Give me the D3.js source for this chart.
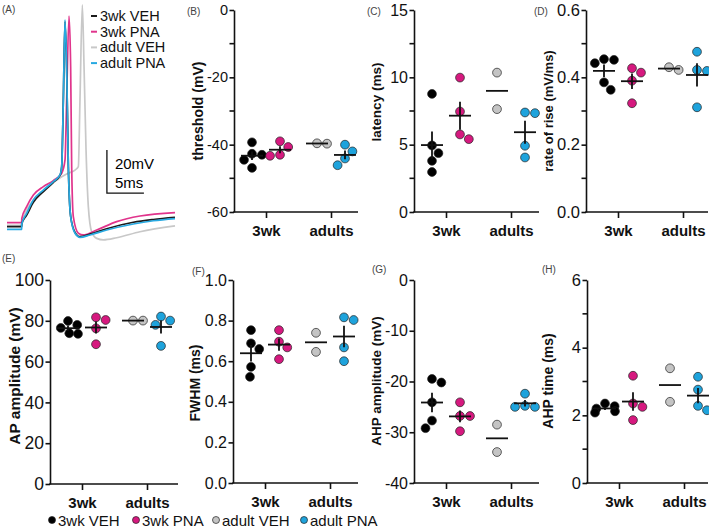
<!DOCTYPE html>
<html><head><meta charset="utf-8">
<script src="https://cdn.jsdelivr.net/npm/d3@7"></script>
<style>
body{margin:0;background:#fff;}
text{font-family:"Liberation Sans",Arial,sans-serif;}
</style></head>
<body><svg id="chart" width="709" height="528"></svg>
<script>
// ---------------- DATA ----------------
const groups = ["3wk VEH", "3wk PNA", "adult VEH", "adult PNA"];
const groupCategory = ["3wk", "3wk", "adults", "adults"];
const categories = ["3wk", "adults"];

const thresholdData = [[-39.3, -42.7, -43.0, -44.5, -46.9], [-39.0, -40.7, -43.0, -43.3], [-39.7, -39.6], [-40.0, -42.0, -44.1, -46.1]];
const latencyData   = [[8.77, 4.94, 4.37, 3.80, 2.97], [9.98, 7.46, 5.76, 5.41], [10.35, 7.64], [7.34, 7.39, 4.92, 4.05]];
const riseData      = [[0.454, 0.452, 0.442, 0.385, 0.363], [0.427, 0.414, 0.390, 0.323], [0.422, 0.430], [0.476, 0.422, 0.419, 0.311]];
const apAmpData     = [[79.9, 78.0, 76.5, 73.9, 73.6], [81.7, 80.4, 76.3, 68.5], [80.1, 80.1], [82.1, 80.1, 78.0, 67.7]];
const fwhmData      = [[0.753, 0.688, 0.660, 0.572, 0.523], [0.753, 0.696, 0.668, 0.610], [0.740, 0.646], [0.816, 0.803, 0.668, 0.600]];
const ahpAmpData    = [[-19.5, -20.2, -24.1, -27.7, -29.2], [-24.1, -26.8, -26.8, -29.8], [-28.5, -33.9], [-22.4, -25.0, -25.0, -24.8]];
const ahpTimeData   = [[2.35, 2.27, 2.20, 2.12, 2.08], [3.17, 2.35, 2.25, 1.86], [3.39, 2.40], [3.14, 2.76, 2.28, 2.15]];

const thresholdTicks = [0, -20, -40, -60], thresholdMinor = [-10, -30, -50];
const latencyTicks = [0, 5, 10, 15], latencyMinor = [2.5, 7.5, 12.5];
const riseTicks = [0, 0.2, 0.4, 0.6], riseMinor = [0.1, 0.3, 0.5];
const apAmpTicks = [0, 20, 40, 60, 80, 100];
const fwhmTicks = [0, 0.2, 0.4, 0.6, 0.8, 1.0];
const ahpAmpTicks = [0, -10, -20, -30, -40];
const ahpTimeTicks = [0, 2, 4, 6], ahpTimeMinor = [1, 3, 5];

// action potential traces: [time (ms), membrane potential (mV)]
const trace3wkVEH = [[0,-69.8],[1.98,-69.8],[2.0,-68.5],[2.66,-64.5],[3.56,-58.5],[4.91,-53.5],[6.26,-49.2],[7.16,-46],[7.39,-42],[7.61,-11],[7.84,25.5],[8.06,4],[8.29,-42],[8.6,-65],[9.19,-72.5],[9.86,-74.5],[11.22,-73.3],[13.47,-70.8],[17.07,-67.8],[19.77,-66.5],[22.7,-65.5]];
const trace3wkPNA = [[0,-68.0],[1.98,-68.0],[2.0,-66],[2.66,-60.5],[3.56,-55.1],[4.91,-51.2],[6.26,-48.4],[7.39,-45.0],[7.84,-38.8],[8.06,-10.9],[8.38,28.1],[8.6,4.6],[8.74,-41.9],[8.96,-65.2],[9.64,-72.9],[10.3,-73.7],[12.12,-71.4],[14.82,-67.5],[17.97,-64.9],[22.7,-63.3]];
const traceAdultVEH = [[0,-69.2],[1.98,-69.2],[2.0,-68],[2.66,-62.1],[3.56,-57.4],[4.91,-53.6],[6.26,-49.4],[7.39,-46.6],[8.06,-45.3],[9.19,-43.5],[9.64,-41.9],[9.86,-10.9],[10.18,33.3],[10.41,4.6],[10.68,-34.2],[10.99,-60.5],[11.44,-72.2],[12.12,-75.3],[13.02,-76.0],[14.82,-75.0],[17.97,-72.2],[22.7,-69.5]];
const traceAdultPNA = [[0,-71.1],[1.98,-71.1],[2.0,-68.6],[2.66,-63.6],[3.56,-57.4],[4.91,-52.8],[6.26,-48.9],[7.16,-45.8],[7.39,-41.9],[7.61,-10.9],[7.84,26.3],[8.06,4.6],[8.29,-41.9],[8.6,-65.2],[9.19,-72.9],[9.86,-74.8],[11.22,-73.7],[13.47,-71.4],[17.07,-68.6],[19.77,-67.1],[22.7,-66.1]];

// ---------------- STYLE ----------------
const groupFill = ["#000000", "#d6197f", "#c4c4c4", "#1ea3dc"];
const traceColor = ["#1b1b1b", "#e0348c", "#c8c8c8", "#27a9e1"];
const FONT = '"Liberation Sans", Arial, sans-serif';
const hyph = f => (d => f(d).replace("\u2212", "-"));

const svg = d3.select("#chart");
svg.append("rect").attr("width", 709).attr("height", 528).attr("fill", "#fff");

// ---------------- PANEL A ----------------
(function () {
  const tS = d3.scaleLinear().domain([0, 22.7]).range([7, 175]);
  const vS = d3.scaleLinear().domain([-70, 30]).range([227, 12]);
  const line = d3.line().x(d => tS(d[0])).y(d => vS(d[1])).curve(d3.curveMonotoneX);
  const traces = [traceAdultVEH, trace3wkPNA, trace3wkVEH, traceAdultPNA];
  const tcol = [traceColor[2], traceColor[1], traceColor[0], traceColor[3]];
  traces.forEach((tr, i) => {
    svg.append("path").attr("d", line(tr)).attr("fill", "none")
      .attr("stroke", tcol[i]).attr("stroke-width", 1.7).attr("stroke-linejoin", "round");
  });
  // scale bar
  const t0 = 13.5, v0 = -54.2;
  svg.append("path")
    .attr("d", `M${tS(t0)},${vS(v0 + 20)}L${tS(t0)},${vS(v0)}L${tS(t0 + 5)},${vS(v0)}`)
    .attr("fill", "none").attr("stroke", "#111").attr("stroke-width", 1.3);
  svg.append("text").attr("x", tS(t0) + 8).attr("y", vS(v0 + 20) + 19).attr("font-size", 15).text("20mV");
  svg.append("text").attr("x", tS(t0) + 8).attr("y", vS(v0) - 5).attr("font-size", 15).text("5ms");
  // legend
  const ly = [16, 31.7, 47.4, 63.1];
  groups.forEach((g, i) => {
    svg.append("line").attr("x1", 91).attr("x2", 97).attr("y1", ly[i]).attr("y2", ly[i])
      .attr("stroke", traceColor[i]).attr("stroke-width", 2);
    svg.append("text").attr("x", 100).attr("y", ly[i] + 5).attr("font-size", 14.5).attr("fill", "#111").text(g);
  });
  svg.append("text").attr("x", 2).attr("y", 13).attr("font-size", 10).attr("fill", "#444").text("(A)");
})();

// ---------------- SCATTER PANELS ----------------
const R = 4.4;
function swarm(vals, yS) {
  const D = 10, CAP = 10;
  const order = vals.map((v, i) => i).sort((a, b) => vals[b] - vals[a]);
  const placed = [];
  const xs = new Array(vals.length).fill(0);
  let side = -1;
  order.forEach(i => {
    const y = yS(vals[i]);
    const forb = placed.filter(p => Math.abs(p.y - y) < D)
      .map(p => { const dx = Math.sqrt(D * D - (p.y - y) * (p.y - y)); return [p.x - dx, p.x + dx]; });
    let cands = [0];
    forb.forEach(f => cands.push(f[0], f[1]));
    cands = cands.filter(c => forb.every(f => c <= f[0] + 1e-6 || c >= f[1] - 1e-6));
    cands.sort((a, b) => (Math.abs(a) - Math.abs(b)) || (side * (a - b)));
    let x = cands[0];
    if (x !== 0) side = -side;
    x = Math.max(-CAP, Math.min(CAP, x));
    xs[i] = x;
    placed.push({ x, y });
  });
  return xs;
}

const panels = [
  { label: "(B)", lx: 187, ly: 15, title: "threshold (mV)", tx: 198, ty: 111, tSize: 14, data: thresholdData, domain: [-60, 0], ticks: thresholdTicks, minor: thresholdMinor, fmt: hyph(d3.format("d")), ax: 234, top: 10, bottom: 212, right: 358, fs: 14.5 },
  { label: "(C)", lx: 367, ly: 15, title: "latency (ms)", tx: 376, ty: 102, tSize: 13.5, data: latencyData, domain: [0, 15], ticks: latencyTicks, minor: latencyMinor, fmt: d3.format("d"), ax: 414, top: 10, bottom: 212, right: 539, fs: 16 },
  { label: "(D)", lx: 534, ly: 15, title: "rate of rise (mV/ms)", tx: 548, ty: 111, tSize: 13, data: riseData, domain: [0, 0.6], ticks: riseTicks, minor: riseMinor, fmt: d3.format(".1f"), ax: 586, top: 10, bottom: 212, right: 708, fs: 16.5 },
  { label: "(E)", lx: 2, ly: 262, title: "AP amplitude (mV)", tx: 14, ty: 376, tSize: 15.5, data: apAmpData, domain: [0, 100], ticks: apAmpTicks, minor: [], fmt: d3.format("d"), ax: 50, top: 280, bottom: 484, right: 178, fs: 17.5 },
  { label: "(F)", lx: 192, ly: 275, title: "FWHM (ms)", tx: 195, ty: 383, tSize: 14, data: fwhmData, domain: [0, 1], ticks: fwhmTicks, minor: [], fmt: d3.format(".1f"), ax: 233, top: 280, bottom: 483, right: 358, fs: 16 },
  { label: "(G)", lx: 372, ly: 273, title: "AHP amplitude (mV)", tx: 376, ty: 381, tSize: 13.5, data: ahpAmpData, domain: [-40, 0], ticks: ahpAmpTicks, minor: [], fmt: hyph(d3.format("d")), ax: 414, top: 280, bottom: 483, right: 539, fs: 16 },
  { label: "(H)", lx: 542, ly: 273, title: "AHP time (ms)", tx: 548, ty: 381, tSize: 14, data: ahpTimeData, domain: [0, 6], ticks: ahpTimeTicks, minor: ahpTimeMinor, fmt: d3.format("d"), ax: 587, top: 280, bottom: 483, right: 708, fs: 16.5 }
];

panels.forEach(cfg => {
  const g = svg.append("g");
  const y = d3.scaleLinear().domain(cfg.domain).range([cfg.bottom, cfg.top]);
  const x = d3.scalePoint().domain(categories).range([cfg.ax + 32, cfg.ax + 97]);

  // y axis
  const ya = g.append("g").attr("transform", `translate(${cfg.ax},0)`)
    .call(d3.axisLeft(y).tickValues(cfg.ticks).tickFormat(cfg.fmt).tickSize(4.5).tickPadding(1.5).tickSizeOuter(0));
  ya.selectAll("path,line").attr("stroke", "#111").attr("stroke-width", 1.6);
  ya.selectAll("text").attr("font-size", cfg.fs).attr("font-family", FONT).attr("fill", "#111");
  cfg.minor.forEach(m => {
    g.append("line").attr("x1", cfg.ax - 4.5).attr("x2", cfg.ax).attr("y1", y(m)).attr("y2", y(m))
      .attr("stroke", "#111").attr("stroke-width", 1.6);
  });
  // x axis
  g.append("line").attr("x1", cfg.ax - 0.8).attr("x2", cfg.right).attr("y1", cfg.bottom).attr("y2", cfg.bottom)
    .attr("stroke", "#111").attr("stroke-width", 1.6);
  const xa = g.append("g").attr("transform", `translate(0,${cfg.bottom})`)
    .call(d3.axisBottom(x).tickSize(6).tickPadding(7).tickSizeOuter(0));
  xa.select(".domain").remove();
  xa.selectAll("line").attr("stroke", "#111").attr("stroke-width", 1.6);
  xa.selectAll("text").attr("font-size", 15).attr("font-weight", "bold").attr("font-family", FONT).attr("fill", "#111");

  // title
  g.append("text").attr("transform", `translate(${cfg.tx},${cfg.ty}) rotate(-90)`)
    .attr("text-anchor", "middle").attr("dominant-baseline", "central")
    .attr("font-size", cfg.tSize).attr("font-weight", "bold").attr("fill", "#111").text(cfg.title);
  // panel label
  g.append("text").attr("x", cfg.lx).attr("y", cfg.ly).attr("font-size", 10).attr("fill", "#444").text(cfg.label);

  // points
  cfg.data.forEach((vals, gi) => {
    const cx = x(groupCategory[gi]) + (gi % 2 === 0 ? -14 : 14);
    const xs = swarm(vals, y);
    g.append("g").selectAll("circle").data(vals).join("circle")
      .attr("cx", (d, i) => cx + xs[i]).attr("cy", d => y(d)).attr("r", R)
      .attr("fill", groupFill[gi]).attr("stroke", "#222").attr("stroke-width", 0.7);
  });
  // mean / SEM
  cfg.data.forEach((vals, gi) => {
    const cx = x(groupCategory[gi]) + (gi % 2 === 0 ? -14 : 14);
    const m = d3.mean(vals);
    g.append("line").attr("x1", cx - 11).attr("x2", cx + 11).attr("y1", y(m)).attr("y2", y(m))
      .attr("stroke", "#111").attr("stroke-width", 1.8);
    if (vals.length > 2) {
      const sem = d3.deviation(vals) / Math.sqrt(vals.length);
      g.append("line").attr("x1", cx).attr("x2", cx).attr("y1", y(m - sem)).attr("y2", y(m + sem))
        .attr("stroke", "#111").attr("stroke-width", 1.8);
    }
  });
});

// ---------------- BOTTOM LEGEND ----------------
const legX = [52, 136, 216, 304];
groups.forEach((gname, i) => {
  svg.append("circle").attr("cx", legX[i]).attr("cy", 520).attr("r", 3.5)
    .attr("fill", groupFill[i]).attr("stroke", "#222").attr("stroke-width", 0.7);
  svg.append("text").attr("x", legX[i] + 6).attr("y", 525.5).attr("font-size", 15).attr("fill", "#111").text(gname);
});
</script>
</body></html>
